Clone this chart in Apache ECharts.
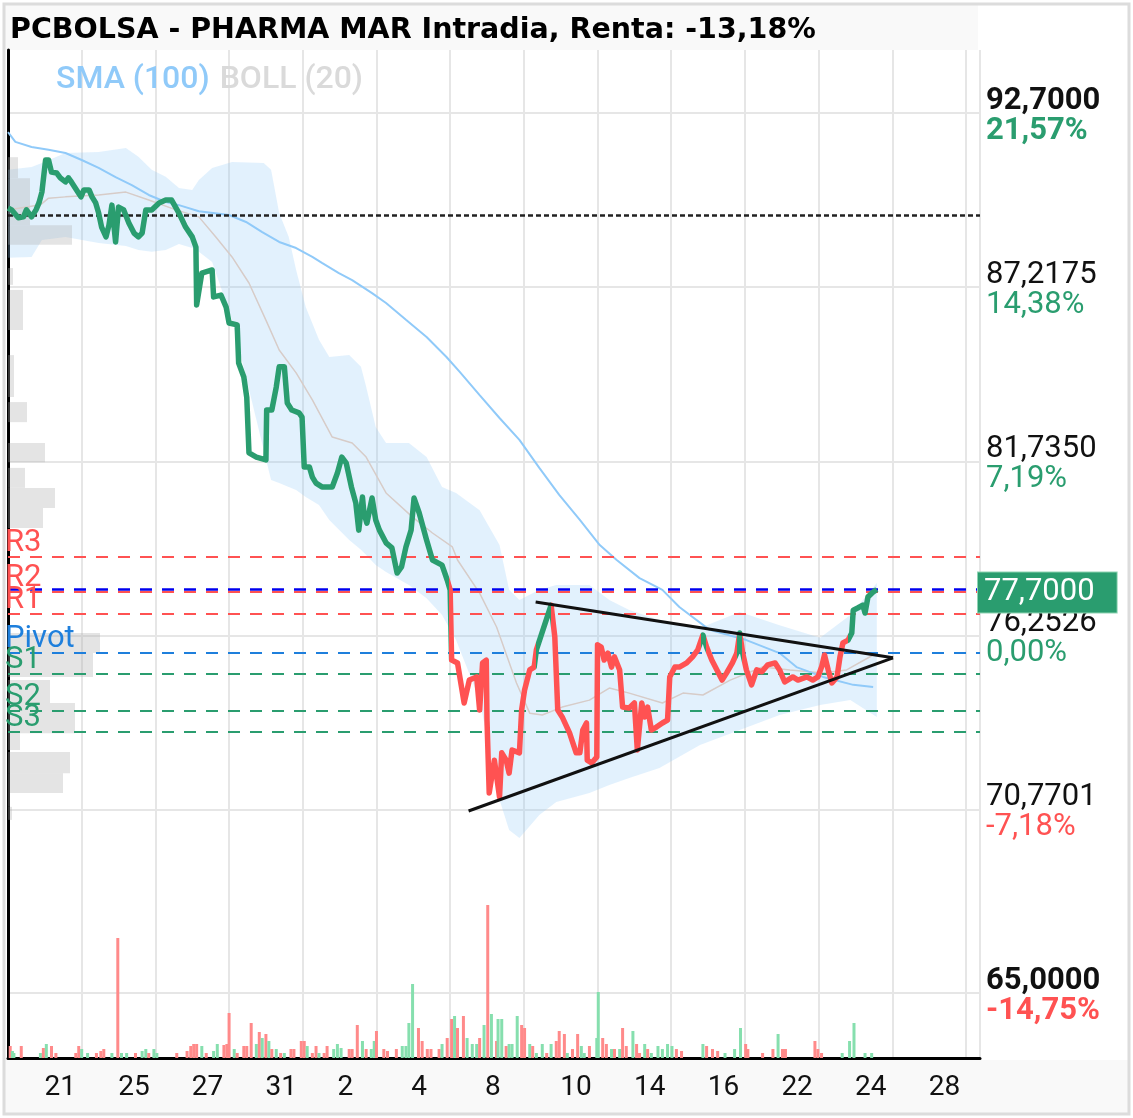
<!DOCTYPE html>
<html><head><meta charset="utf-8">
<script src="https://cdn.jsdelivr.net/npm/echarts@6/dist/echarts.min.js"></script>
<style>html,body{margin:0;padding:0;background:#fff}#c{width:1133px;height:1118px}</style>
</head><body><div id="c"></div>
<script>
const titleText = 'PCBOLSA - PHARMA MAR Intradia, Renta: -13,18%';
const xTickLabels = ['', '21','25','27','31','2','4','8','10','14','16','22','24','28'];
const yTickValues = [92.7, 87.2175, 81.735, 76.2526, 70.7701, 65];
const yTickPrices = ['92,7000','87,2175','81,7350','76,2526','70,7701','65,0000'];
const yTickPcts = ['21,57%','14,38%','7,19%','0,00%','-7,18%','-14,75%'];

// price (x = trading-day position, y = price)
const priceX = [0,0.05,0.14,0.21,0.25,0.32,0.38,0.42,0.46,0.51,
0.55,0.59,0.66,0.71,0.78,0.82,0.86,0.93,0.99,1.03,
1.10,1.14,1.19,1.23,1.27,1.33,1.37,1.41,1.46,1.50,
1.57,1.64,1.71,1.77,1.82,1.87,1.95,2.05,2.14,2.22,
2.32,2.41,2.50,2.55,2.56,2.63,2.77,2.79,2.89,2.96,
3.00,3.11,3.13,3.20,3.24,3.27,3.37,3.50,3.51,3.58,
3.64,3.68,3.75,3.79,3.85,3.95,3.99,4.02,4.09,4.13,
4.18,4.26,4.40,4.47,4.53,4.59,4.66,4.72,4.76,4.81,
4.83,4.87,4.94,4.99,5.04,5.13,5.21,5.28,5.34,5.40,
5.47,5.51,5.58,5.68,5.76,5.89,5.96,6.00,6.02,6.10,
6.19,6.26,6.36,6.40,6.44,6.49,6.50,6.53,6.60,6.67,
6.70,6.76,6.80,6.84,6.94,6.97,7.01,7.08,7.14,7.17,
7.37,7.42,7.46,7.52,7.62,7.71,7.76,7.80,7.85,7.86,
7.92,7.99,8.00,8.05,8.09,8.14,8.19,8.23,8.30,8.34,
8.43,8.50,8.54,8.60,8.64,8.68,8.73,8.80,8.88,8.95,
8.98,9.05,9.11,9.21,9.29,9.36,9.43,9.48,9.55,9.62,
9.69,9.75,9.83,9.89,9.93,9.97,10.02,10.09,10.16,10.23,
10.31,10.41,10.47,10.54,10.65,10.72,10.84,10.92,10.99,11.04,
11.08,11.13,11.18,11.25,11.29,11.33,11.40,11.45,11.47,11.53,
11.60,11.63,11.67,11.74,11.79];
const priceY = [89.71,89.65,89.40,89.43,89.65,89.43,89.65,89.87,90.21,91.22,
91.22,90.84,90.81,90.66,90.53,90.66,90.53,90.28,90.06,90.28,
90.28,90.06,89.87,89.55,89.11,88.80,89.17,89.80,88.64,89.74,
89.65,89.24,88.92,88.80,88.92,89.65,89.65,89.87,89.96,89.96,
89.55,89.11,88.80,88.48,86.66,87.66,87.76,86.91,86.97,86.59,
86.09,86.03,84.83,84.39,83.75,82.00,81.87,81.78,83.35,83.35,
84.07,84.71,84.71,83.57,83.35,83.26,83.13,81.56,81.56,81.24,
81.05,80.93,80.93,81.37,81.87,81.68,80.93,80.42,79.57,80.61,
80.11,79.79,80.58,79.89,79.57,79.17,79.01,78.22,78.41,79.04,
79.57,80.58,80.11,79.26,78.63,78.47,78.00,77.69,75.48,75.39,
74.13,74.85,74.95,73.91,75.39,75.48,73.59,71.30,72.33,71.17,
72.56,72.33,71.92,72.65,72.56,73.91,74.54,75.17,75.26,75.80,
77.21,76.21,73.91,73.69,73.19,72.56,72.56,73.28,73.50,72.33,
72.24,72.43,75.96,75.89,75.48,75.70,75.26,75.58,75.17,74.00,
73.97,74.13,72.65,74.13,73.69,74.00,73.28,73.37,73.50,73.59,
74.95,75.26,75.26,75.39,75.58,75.80,76.27,75.89,75.48,75.17,
74.85,75.07,75.39,75.70,76.33,75.70,75.17,74.70,75.17,75.11,
75.33,75.39,75.17,74.79,74.95,74.85,74.95,74.85,74.95,75.26,
75.64,75.17,74.76,74.95,75.58,76.02,76.11,76.33,77.05,77.12,
77.21,76.96,77.47,77.62,77.70];
// x positions where the line colour switches (green first)
const colorBreaks = [5.99, 7.17, 7.37, 9.40, 9.47, 9.89, 9.96, 11.40];

// SMA (100)
const smaX = [0,0.10,0.32,0.55,0.78,1.00,1.23,1.46,1.68,1.91,2.14,2.32,2.59,3.00,3.23,3.45,3.68,3.91,4.13,4.26,
4.49,4.67,4.94,5.13,5.40,5.68,5.95,6.13,6.40,6.67,6.94,7.21,7.48,7.76,8.03,8.26,8.57,8.88,9.11,9.52,
10.02,10.47,10.70,11.06,11.47,11.74];
const smaY = [92.10,91.79,91.63,91.54,91.44,91.22,90.97,90.68,90.43,90.12,89.90,89.80,89.61,89.49,89.27,88.95,88.64,88.45,88.17,87.98,
87.66,87.44,87.03,86.72,86.19,85.65,85.02,84.55,83.82,83.10,82.41,81.53,80.68,79.89,79.10,78.63,78.06,77.69,77.15,76.43,
76.11,75.70,75.26,74.95,74.70,74.63];

// BOLL (20) middle
const bollMidX = [0,0.44,0.55,0.78,1.23,1.60,1.91,2.28,2.59,2.82,3.04,3.27,3.50,3.68,3.91,4.13,4.40,4.67,4.86,5.13,
5.49,5.76,6.03,6.10,6.40,6.63,6.90,7.08,7.25,7.52,7.89,8.16,8.43,8.88,9.16,9.43,9.80,10.24,10.61,11.06,
11.38,11.74];
const bollMidY = [89.65,89.81,90.02,90.06,90.12,90.21,89.96,89.65,89.43,88.80,88.17,87.35,86.18,85.24,84.52,83.67,82.50,82.31,81.87,80.74,
79.98,79.48,79.04,78.63,77.59,76.52,74.76,73.81,73.75,74.00,74.22,74.60,74.44,74.13,74.44,74.38,74.85,75.26,75.17,75.07,
75.17,75.64];
// BOLL (20) band
const bollX = [0,0.32,0.46,0.78,1.23,1.60,1.77,1.95,2.14,2.32,2.50,2.59,2.77,3.04,3.47,3.57,3.68,3.81,3.91,4.04,
4.22,4.36,4.63,4.79,4.86,4.99,5.13,5.44,5.68,5.89,6.08,6.40,6.67,6.80,6.94,7.21,7.44,7.89,8.16,8.43,
8.84,9.39,9.93,10.47,11.02,11.43,11.79];
const bollUp = [90.91,91.00,91.13,91.44,91.47,91.60,91.32,90.91,90.69,90.34,90.28,90.59,90.97,91.16,91.13,90.91,89.55,88.80,87.76,86.59,
85.56,85.02,85.08,84.71,84.08,82.82,82.31,82.31,81.87,80.93,80.74,80.20,79.10,77.69,77.37,77.69,77.84,77.84,77.37,77.06,
76.74,76.49,76.99,76.58,76.18,76.90,77.91];
const bollLow = [88.14,88.17,88.70,88.80,88.61,88.51,88.39,88.33,88.39,88.58,88.45,88.33,88.01,86.19,82.09,81.15,81.05,80.93,80.83,80.61,
80.36,79.89,79.26,78.95,78.79,78.47,78.25,77.84,77.43,76.90,76.11,74.22,71.08,70.13,69.88,70.60,71.01,71.30,71.55,71.77,
72.08,72.81,73.28,73.75,74.07,74.22,73.69];

// triangle
const triUpperX = [7.16, 12.01], triUpperY = [77.31, 75.55];
const triLowerX = [6.25, 12.01], triLowerY = [70.73, 75.55];

// levels
const startPrice = 89.49;
const lastPrice = 77.70;
const levelNames = ['R3','R2','R1','Pivot','S1','S2','S3'];
const levelValues = [78.73, 77.62, 76.93, 75.70, 75.04, 73.88, 73.21];

// volume
const volX = [0.03,0.06,0.08,0.18,0.44,0.48,0.52,0.59,0.65,0.92,
0.96,1.00,1.08,1.20,1.26,1.30,1.41,1.49,1.54,1.61,
1.73,1.82,1.87,1.91,1.98,2.02,2.29,2.43,2.48,2.52,
2.56,2.63,2.69,2.79,2.84,2.93,2.97,3.00,3.07,3.11,
3.20,3.24,3.30,3.37,3.41,3.45,3.50,3.54,3.58,3.64,
3.70,3.75,3.84,3.88,3.98,4.02,4.06,4.13,4.18,4.22,
4.29,4.33,4.42,4.47,4.52,4.63,4.67,4.74,4.81,4.86,
4.93,4.97,5.00,5.10,5.15,5.27,5.35,5.40,5.44,5.49,
5.57,5.62,5.69,5.74,5.85,5.89,5.96,6.02,6.06,6.10,
6.18,6.23,6.30,6.36,6.40,6.46,6.51,6.56,6.63,6.65,
6.70,6.76,6.80,6.84,6.91,6.97,7.01,7.08,7.12,7.17,
7.25,7.31,7.37,7.44,7.48,7.55,7.59,7.66,7.73,7.78,
7.82,7.89,7.99,8.01,8.07,8.12,8.19,8.23,8.30,8.34,
8.39,8.48,8.53,8.57,8.64,8.68,8.73,8.82,8.88,8.95,
9.01,9.07,9.14,9.43,9.48,9.56,9.63,9.73,9.86,9.94,
10.01,10.04,10.24,10.38,10.45,10.51,10.55,10.95,10.99,11.04,
11.32,11.42,11.48,11.63,11.72];
const volV = [12,7,5,12,5,10,14,12,5,5,
12,9,5,5,7,9,5,120,5,5,
5,7,9,5,9,5,5,7,12,14,
14,12,5,7,14,13,14,45,9,5,
12,12,35,14,26,20,24,17,9,9,
5,5,9,9,17,17,12,5,12,5,
5,12,9,14,10,9,9,33,17,9,
9,17,27,9,7,9,12,12,35,74,
30,17,9,9,9,14,20,39,42,30,
42,20,14,14,20,33,153,44,17,39,
39,12,14,14,42,33,30,14,12,5,
14,5,14,17,27,24,5,9,24,12,
5,12,20,66,20,14,9,9,9,30,
12,27,14,5,14,9,5,12,9,14,
12,9,7,14,12,9,7,5,9,30,
14,9,5,9,24,9,9,17,9,5,
5,17,35,5,5];
const volUp = [0,1,1,0,1,0,1,0,0,0,
0,1,1,0,0,0,1,0,1,1,
0,1,1,0,1,1,0,0,0,0,
0,1,0,1,1,0,0,0,1,0,
0,0,0,1,0,1,0,1,0,1,
0,1,0,0,0,0,1,0,0,1,
0,0,1,1,1,0,0,0,1,0,
1,1,0,0,0,0,1,1,1,1,
0,0,0,0,0,1,0,0,1,0,
0,1,1,1,0,1,0,1,0,1,
1,0,1,1,1,0,0,1,0,1,
1,0,1,0,0,0,1,0,0,1,
1,0,1,1,0,0,1,0,1,0,
0,1,0,0,1,0,1,1,1,1,
1,0,0,1,0,0,0,1,1,1,
0,0,0,0,1,0,0,0,0,0,
1,1,1,1,1];

// volume profile (price band low/high, traded amount)
const profLow  = [90.65,89.17,88.55,87.29,85.87,83.76,82.97,81.71,80.90,80.27,79.64,75.70,74.95,74.13,73.18,72.65,71.92,71.30,70.86,70.45];
const profHigh = [91.31,90.65,89.17,87.82,87.13,85.08,83.60,82.31,81.53,80.90,80.27,76.33,75.70,74.85,74.13,73.18,72.59,71.92,71.30,70.86];
const profAmt  = [10,22,64,5,15,6,19,37,17,47,35,92,85,42,67,12,62,55,2,4];

// ---------- styles ----------
const GREEN = '#2a9d6f', RED = '#ff5252', PIVOT = '#1e7fdc';
const FONT = 'Roboto';

const chart = echarts.init(document.getElementById('c'), null, {renderer:'canvas'});

const pieces = [];
const bounds = [-Infinity].concat(colorBreaks).concat([Infinity]);
for (let i = 0; i < bounds.length - 1; i++) {
  const p = {color: i % 2 === 0 ? GREEN : RED};
  if (bounds[i] !== -Infinity) p.gte = bounds[i];
  if (bounds[i+1] !== Infinity) p.lt = bounds[i+1];
  pieces.push(p);
}

const levelColor = n => n[0] === 'R' ? RED : (n[0] === 'S' ? GREEN : PIVOT);
const fmtPrice = v => v.toFixed(4).replace('.', ',');

const yRich = {};
[['v','#111'],['g',GREEN],['r',RED]].forEach(([k,c]) => {
  yRich[k] = {fontSize:31, color:c, lineHeight:30, fontFamily:FONT};
  yRich[k+'b'] = {fontSize:31, color:c, lineHeight:30, fontWeight:'bold', fontFamily:FONT};
});

const option = {
  animation: false,
  textStyle: {fontFamily: FONT},
  title: {
    text: titleText, left: 5, top: 11,
    textStyle: {fontSize: 28.5, fontWeight: 'bold', color: '#000', fontFamily: 'DejaVu Sans'}
  },
  legend: {
    left: 46, top: 59, icon: 'none', itemWidth: 0, itemGap: 5,
    selectedMode: false,
    textStyle: {fontSize: 32, fontWeight: 500, fontFamily: FONT},
    data: [
      {name: 'SMA (100)', textStyle: {color: '#90caf9'}},
      {name: 'BOLL (20)', textStyle: {color: '#dadada'}}
    ]
  },
  graphic: [
    {type:'rect', z:-10, shape:{x:5, y:5, width:973, height:45}, style:{fill:'#f9f9f9'}},
    {type:'rect', z:-10, shape:{x:5, y:1060, width:1123, height:53}, style:{fill:'#f9f9f9'}},
    {type:'rect', z:100, shape:{x:4, y:4, width:1125, height:1110}, style:{fill:'none', stroke:'#dcdcdc', lineWidth:3}}
  ],
  grid: {left: 8, right: 153, top: 50, bottom: 60},
  visualMap: {type:'piecewise', show:false, seriesIndex: 4, dimension: 0, pieces: pieces},
  xAxis: [
    {
      type: 'value', min: 0, max: 13.19, interval: 1,
      axisLine: {lineStyle: {color: '#000', width: 3}},
      axisTick: {show: false},
      splitLine: {show: true, lineStyle: {color: '#e6e6e6', width: 2}},
      axisLabel: {
        margin: 16,
        formatter: v => {
          const k = Math.round(v);
          if (Math.abs(v - k) > 1e-6) return '';
          const t = xTickLabels[k] || '';
          if (!t) return '';
          return t.length === 1 ? '{s|' + t + '}' : '{d|' + t + '}';
        },
        rich: {
          d: {fontSize: 28, color: '#111', fontFamily: FONT, padding: [0, 43, 0, 0]},
          s: {fontSize: 28, color: '#111', fontFamily: FONT, padding: [0, 62, 0, 0]}
        }
      }
    },
    {type: 'value', min: 0, max: 972, show: false}
  ],
  yAxis: [
    {
      type: 'value', position: 'right', min: 62.955, max: 94.683, scale: true,
      axisLine: {show: true, lineStyle: {color: '#000', width: 3}},
      axisTick: {show: false, customValues: yTickValues},
      splitLine: {show: true, lineStyle: {color: '#e6e6e6', width: 2}},
      axisLabel: {
        customValues: yTickValues, align: 'left', margin: 6, padding: [6, 0, 0, 0],
        formatter: v => {
          const i = yTickValues.findIndex(t => Math.abs(t - v) < 1e-6);
          if (i < 0) return '';
          const b = (i === 0 || i === yTickValues.length - 1) ? 'b' : '';
          const pc = yTickPcts[i].charAt(0) === '-' ? 'r' : 'g';
          return '{v' + b + '|' + yTickPrices[i] + '}\n{' + pc + b + '|' + yTickPcts[i] + '}';
        },
        rich: yRich
      }
    },
    {type: 'value', min: 0, max: 1008, show: false}
  ],
  series: [
    { // 0 BOLL band
      type: 'custom', name: 'BOLL (20)', xAxisIndex: 0, yAxisIndex: 0, z: 1, silent: true,
      itemStyle: {color: '#dadada'},
      data: [[bollX[0], bollUp[0]]],
      renderItem: (params, api) => {
        const pts = [];
        for (let i = 0; i < bollX.length; i++) pts.push(api.coord([bollX[i], bollUp[i]]));
        for (let i = bollX.length - 1; i >= 0; i--) pts.push(api.coord([bollX[i], bollLow[i]]));
        return {type: 'polygon', shape: {points: pts}, style: {fill: 'rgba(144,202,249,0.26)'}};
      }
    },
    { // 1 volume profile
      type: 'custom', name: 'profile', xAxisIndex: 1, yAxisIndex: 0, z: 1, silent: true,
      data: profLow.map((l, i) => [profAmt[i], l, profHigh[i]]),
      renderItem: (params, api) => {
        const amt = api.value(0), lo = api.value(1), hi = api.value(2);
        const a = api.coord([0, hi]), b = api.coord([amt, lo]);
        return {type: 'rect', shape: {x: a[0], y: a[1], width: b[0] - a[0], height: b[1] - a[1]},
                style: {fill: 'rgba(170,170,170,0.32)'}};
      }
    },
    { // 2 volume bars
      type: 'bar', name: 'vol', xAxisIndex: 0, yAxisIndex: 1, barWidth: 3, z: 2, silent: true,
      data: volX.map((x, i) => ({value: [x, volV[i]], itemStyle: {color: volUp[i] ? '#86dfae' : '#ff8a8a'}}))
    },
    { // 3 levels
      type: 'line', name: 'levels', z: 2, silent: true, symbol: 'none',
      lineStyle: {opacity: 0}, data: [[0, startPrice]],
      markLine: {
        symbol: ['none', 'none'], silent: true, animation: false,
        data: [
          {yAxis: startPrice, lineStyle: {color: '#222', type: [5, 3], width: 2.5}, label: {show: false}}
        ].concat(levelNames.map((n, i) => ({
          yAxis: levelValues[i],
          lineStyle: {color: levelColor(n), type: [12, 10], width: 2},
          label: {show: true, formatter: n, position: 'insideStartTop', distance: [-3, -2],
                  color: levelColor(n), fontSize: 31, fontFamily: FONT}
        }))).concat([
          {yAxis: lastPrice, lineStyle: {color: '#0000ee', type: [12, 10], width: 2.5},
           label: {show: true, position: 'end', formatter: fmtPrice(lastPrice), distance: -2,
                   offset: [0, 3],
                   color: '#fff', backgroundColor: GREEN, borderColor: '#8fd3b3', borderWidth: 1,
                   padding: [5, 22, 3, 6], fontSize: 31, lineHeight: 32, fontFamily: FONT}}
        ])
      }
    },
    { // 4 price
      type: 'line', name: 'price', z: 5, silent: true, symbol: 'none', showSymbol: false,
      lineStyle: {width: 5.5, join: 'round'},
      data: priceX.map((x, i) => [x, priceY[i]])
    },
    { // 5 SMA
      type: 'line', name: 'SMA (100)', z: 3, silent: true, symbol: 'none',
      itemStyle: {color: '#90caf9'}, lineStyle: {color: '#90caf9', width: 2},
      data: smaX.map((x, i) => [x, smaY[i]])
    },
    { // 6 BOLL middle
      type: 'line', name: 'BOLL (20)', z: 2, silent: true, symbol: 'none',
      itemStyle: {color: '#dadada'}, lineStyle: {color: '#d7ccc8', width: 1.5},
      data: bollMidX.map((x, i) => [x, bollMidY[i]])
    },
    { // 7 triangle upper
      type: 'line', name: 'triU', z: 6, silent: true, symbol: 'none',
      lineStyle: {color: '#111', width: 3}, data: triUpperX.map((x, i) => [x, triUpperY[i]])
    },
    { // 8 triangle lower
      type: 'line', name: 'triL', z: 6, silent: true, symbol: 'none',
      lineStyle: {color: '#111', width: 3}, data: triLowerX.map((x, i) => [x, triLowerY[i]])
    }
  ]
};
chart.setOption(option);
</script>
</body></html>
